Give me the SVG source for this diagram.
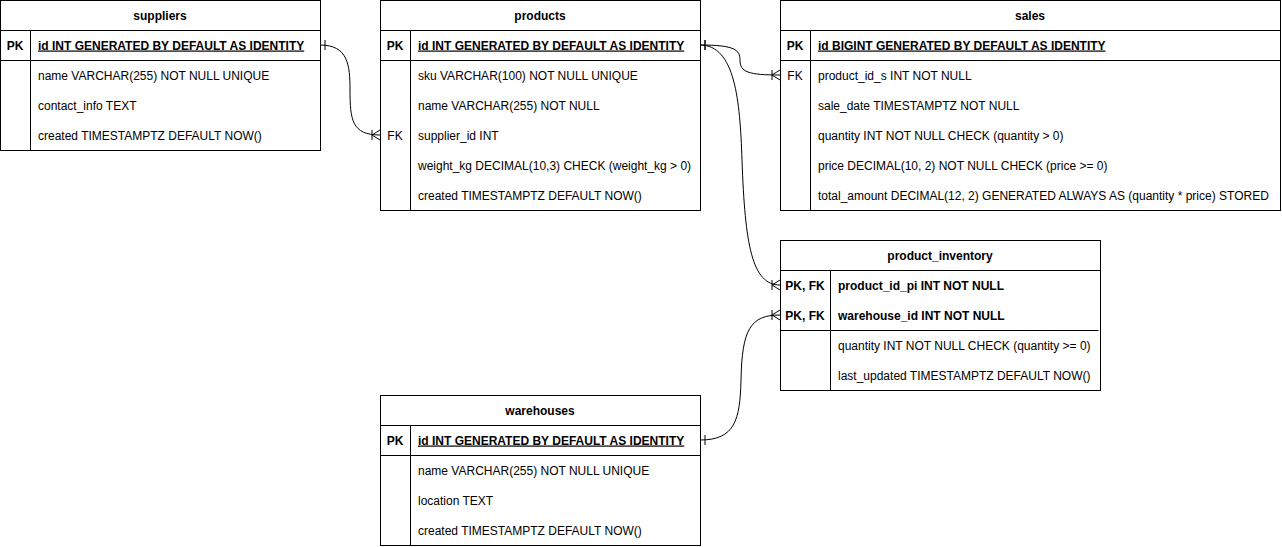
<svg xmlns="http://www.w3.org/2000/svg" width="1282" height="547" viewBox="0 0 1282 547">
  <style>
    text { font-family: "Liberation Sans", Arial, sans-serif; font-size: 12px; fill: #000; }
    .title { font-weight: bold; text-anchor: middle; }
    .key { text-anchor: middle; }
    .pk { font-weight: bold; text-decoration: underline; }
    .bold { font-weight: bold; }
    .box { fill: #fff; stroke: #000; stroke-width: 1; }
    .ln { stroke: #000; stroke-width: 1; fill: none; }
    .edge { stroke: #000; stroke-width: 1; fill: none; }
  </style>
  <defs>
    <marker id="one" markerUnits="userSpaceOnUse" markerWidth="12" markerHeight="12" refX="0" refY="6" orient="auto" overflow="visible">
      <path d="M5,1 L5,11" stroke="#000" fill="none"/>
    </marker>
    <marker id="many" markerUnits="userSpaceOnUse" markerWidth="12" markerHeight="12" refX="10" refY="6" orient="auto" overflow="visible">
      <path d="M2,1 L2,11 M2,6 L10,1 M2,6 L10,11" stroke="#000" fill="none"/>
    </marker>
  </defs>

  <rect width="1282" height="547" fill="#fff"/>

  <!-- relationships -->
  <g id="connectors">
    <path class="edge" d="M320,45 C348,45 350,65 350,90 C350,120 352,135 380,135" marker-start="url(#one)" marker-end="url(#many)"/>
    <path class="edge" d="M700,45 C735,45 740,50 740,60 C740,72 748,75 780,75" marker-start="url(#one)" marker-end="url(#many)"/>
    <path class="edge" d="M700,45 C735,45 740,100 742,160 C745,245 752,285 780,285" marker-start="url(#one)" marker-end="url(#many)"/>
    <path class="edge" d="M700,440 C735,440 740,420 741,380 C742,330 750,315 780,315" marker-start="url(#one)" marker-end="url(#many)"/>
  </g>

  <!-- suppliers -->
  <g id="suppliers">
    <rect class="box" x="0.5" y="0.5" width="320" height="150"/>
    <path class="ln" d="M0.5,30.5 H320.5 M0.5,60.5 H320.5 M30.5,30.5 V150.5"/>
    <text class="title" x="160" y="19.5">suppliers</text>
    <text class="key bold" x="15" y="49.5">PK</text>
    <text class="pk" x="38" y="49.5">id INT GENERATED BY DEFAULT AS IDENTITY</text>
    <text x="38" y="79.5">name VARCHAR(255) NOT NULL UNIQUE</text>
    <text x="38" y="109.5">contact_info TEXT</text>
    <text x="38" y="139.5">created TIMESTAMPTZ DEFAULT NOW()</text>
  </g>

  <!-- products -->
  <g id="products">
    <rect class="box" x="380.5" y="0.5" width="320" height="210"/>
    <path class="ln" d="M380.5,30.5 H700.5 M380.5,60.5 H700.5 M410.5,30.5 V210.5"/>
    <text class="title" x="540" y="19.5">products</text>
    <text class="key bold" x="395" y="49.5">PK</text>
    <text class="pk" x="418" y="49.5">id INT GENERATED BY DEFAULT AS IDENTITY</text>
    <text x="418" y="79.5">sku VARCHAR(100) NOT NULL UNIQUE</text>
    <text x="418" y="109.5">name VARCHAR(255) NOT NULL</text>
    <text class="key" x="395" y="139.5">FK</text>
    <text x="418" y="139.5">supplier_id INT</text>
    <text x="418" y="169.5">weight_kg DECIMAL(10,3) CHECK (weight_kg &gt; 0)</text>
    <text x="418" y="199.5">created TIMESTAMPTZ DEFAULT NOW()</text>
  </g>

  <!-- sales -->
  <g id="sales">
    <rect class="box" x="780.5" y="0.5" width="500" height="210"/>
    <path class="ln" d="M780.5,30.5 H1280.5 M780.5,60.5 H1280.5 M810.5,30.5 V210.5"/>
    <text class="title" x="1030" y="19.5">sales</text>
    <text class="key bold" x="795" y="49.5">PK</text>
    <text class="pk" x="818" y="49.5">id BIGINT GENERATED BY DEFAULT AS IDENTITY</text>
    <text class="key" x="795" y="79.5">FK</text>
    <text x="818" y="79.5">product_id_s INT NOT NULL</text>
    <text x="818" y="109.5">sale_date TIMESTAMPTZ NOT NULL</text>
    <text x="818" y="139.5">quantity INT NOT NULL CHECK (quantity &gt; 0)</text>
    <text x="818" y="169.5">price DECIMAL(10, 2) NOT NULL CHECK (price &gt;= 0)</text>
    <text x="818" y="199.5">total_amount DECIMAL(12, 2) GENERATED ALWAYS AS (quantity * price) STORED</text>
  </g>

  <!-- product_inventory -->
  <g id="product_inventory">
    <rect class="box" x="780.5" y="240.5" width="320" height="150"/>
    <path class="ln" d="M780.5,270.5 H1100.5 M780.5,330.5 H1098.5 M830.5,270.5 V390.5"/>
    <text class="title" x="940" y="259.5">product_inventory</text>
    <text class="key bold" x="805" y="289.5">PK, FK</text>
    <text class="bold" x="838" y="289.5">product_id_pi INT NOT NULL</text>
    <text class="key bold" x="805" y="319.5">PK, FK</text>
    <text class="bold" x="838" y="319.5">warehouse_id INT NOT NULL</text>
    <text x="838" y="349.5">quantity INT NOT NULL CHECK (quantity &gt;= 0)</text>
    <text x="838" y="379.5">last_updated TIMESTAMPTZ DEFAULT NOW()</text>
  </g>

  <!-- warehouses -->
  <g id="warehouses">
    <rect class="box" x="380.5" y="395.5" width="320" height="150"/>
    <path class="ln" d="M380.5,425.5 H700.5 M380.5,455.5 H700.5 M410.5,425.5 V545.5"/>
    <text class="title" x="540" y="414.5">warehouses</text>
    <text class="key bold" x="395" y="444.5">PK</text>
    <text class="pk" x="418" y="444.5">id INT GENERATED BY DEFAULT AS IDENTITY</text>
    <text x="418" y="474.5">name VARCHAR(255) NOT NULL UNIQUE</text>
    <text x="418" y="504.5">location TEXT</text>
    <text x="418" y="534.5">created TIMESTAMPTZ DEFAULT NOW()</text>
  </g>
</svg>
